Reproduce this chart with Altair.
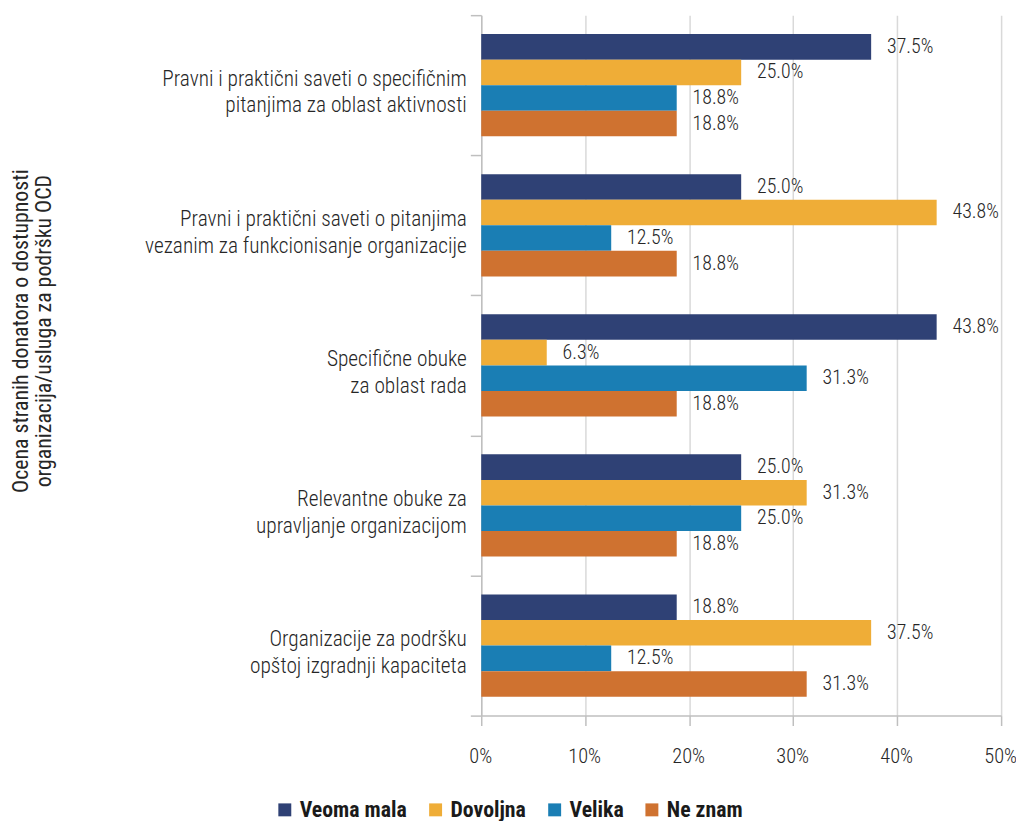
import altair as alt
import pandas as pd

categories = [
    "Pravni i praktični saveti o specifičnim|pitanjima za oblast aktivnosti",
    "Pravni i praktični saveti o pitanjima|vezanim za funkcionisanje organizacije",
    "Specifične obuke|za oblast rada",
    "Relevantne obuke za|upravljanje organizacijom",
    "Organizacije za podršku|opštoj izgradnji kapaciteta",
]
series = ["Veoma mala", "Dovoljna", "Velika", "Ne znam"]
colors = ["#2F4175", "#EFAD37", "#1A7EB4", "#CF7230"]

veoma_mala = [37.5, 25.0, 43.8, 25.0, 18.8]
dovoljna = [25.0, 43.8, 6.3, 31.3, 37.5]
velika = [18.8, 12.5, 31.3, 25.0, 12.5]
ne_znam = [18.8, 18.8, 18.8, 18.8, 31.3]

x_ticks = [0, 10, 20, 30, 40, 50]

rows = []
for s, vals in zip(series, [veoma_mala, dovoljna, velika, ne_znam]):
    for c, v in zip(categories, vals):
        rows.append({"category": c, "series": s, "value": v})
df = pd.DataFrame(rows)

FONT = "Roboto Condensed, Roboto, sans-serif"

y_enc = alt.Y(
    "category:N",
    sort=categories,
    scale=alt.Scale(paddingInner=0, paddingOuter=0),
    axis=alt.Axis(
        title=["Ocena stranih donatora o dostupnosti", "organizacija/usluga za podršku OCD"],
        titleFont=FONT,
        titleFontSize=22,
        titleFontWeight="normal",
        titleColor="#262626",
        titleX=-474,
        titleY=318,
        titleAngle=-90,
        titleAlign="center",
        titleBaseline="top",
        titleLineHeight=23,
        labelExpr="split(datum.label, '|')",
        labelFont=FONT,
        labelFontSize=21.5,
        labelFontWeight=300,
        labelColor="#262626",
        labelLineHeight=27,
        labelPadding=4,
        labelOffset=-6,
        labelLimit=450,
        tickBand="extent",
        tickSize=11,
        tickColor="#BFBFBF",
        tickWidth=1.5,
        domainColor="#BFBFBF",
        domainWidth=1.5,
        grid=False,
    ),
)
yoff = alt.YOffset(
    "series:N", sort=series, scale=alt.Scale(paddingInner=0, paddingOuter=0.74)
)

x_enc = alt.X(
    "value:Q",
    scale=alt.Scale(domain=[0, 50]),
    axis=alt.Axis(
        title=None,
        values=x_ticks,
        labelExpr="datum.value + '%'",
        labelFlush=False,
        labelFont=FONT,
        labelFontSize=20.5,
        labelFontWeight=300,
        labelColor="#262626",
        labelPadding=21,
        labelOffset=-1,
        tickSize=10,
        tickColor="#BFBFBF",
        tickWidth=1.5,
        domainColor="#BFBFBF",
        domainWidth=1.5,
        grid=True,
        gridColor="#D9D9D9",
        gridWidth=1.5,
    ),
)

base = alt.Chart(df).encode(y=y_enc, yOffset=yoff)

bars = base.mark_bar().encode(
    x=x_enc,
    color=alt.Color(
        "series:N",
        sort=series,
        scale=alt.Scale(domain=series, range=colors),
        legend=alt.Legend(
            title=None,
            orient="none",
            direction="horizontal",
            legendX=-209,
            legendY=790,
            symbolType="square",
            symbolSize=170,
            symbolStrokeWidth=0,
            labelFont=FONT,
            labelFontSize=22,
            labelFontWeight="bold",
            labelColor="#1a1a1a",
            columnPadding=17,
            labelOffset=4,
        ),
    ),
)

texts = base.mark_text(
    align="left", baseline="middle", dx=16, font=FONT, fontSize=20, fontWeight=300,
    color="#262626"
).encode(
    x="value:Q",
    text=alt.Text("lbl:N"),
).transform_calculate(lbl="format(datum.value, '.1f') + '%'")

chart = (
    alt.layer(bars, texts)
    .properties(
        width=524,
        height=706,
        autosize=alt.AutoSizeParams(type="none"),
        padding={"left": 477, "top": 4, "right": 15, "bottom": 103},
    )
    .configure_view(stroke=None)
)

chart.save("out.html", embed_options={"renderer": "svg", "actions": False})
